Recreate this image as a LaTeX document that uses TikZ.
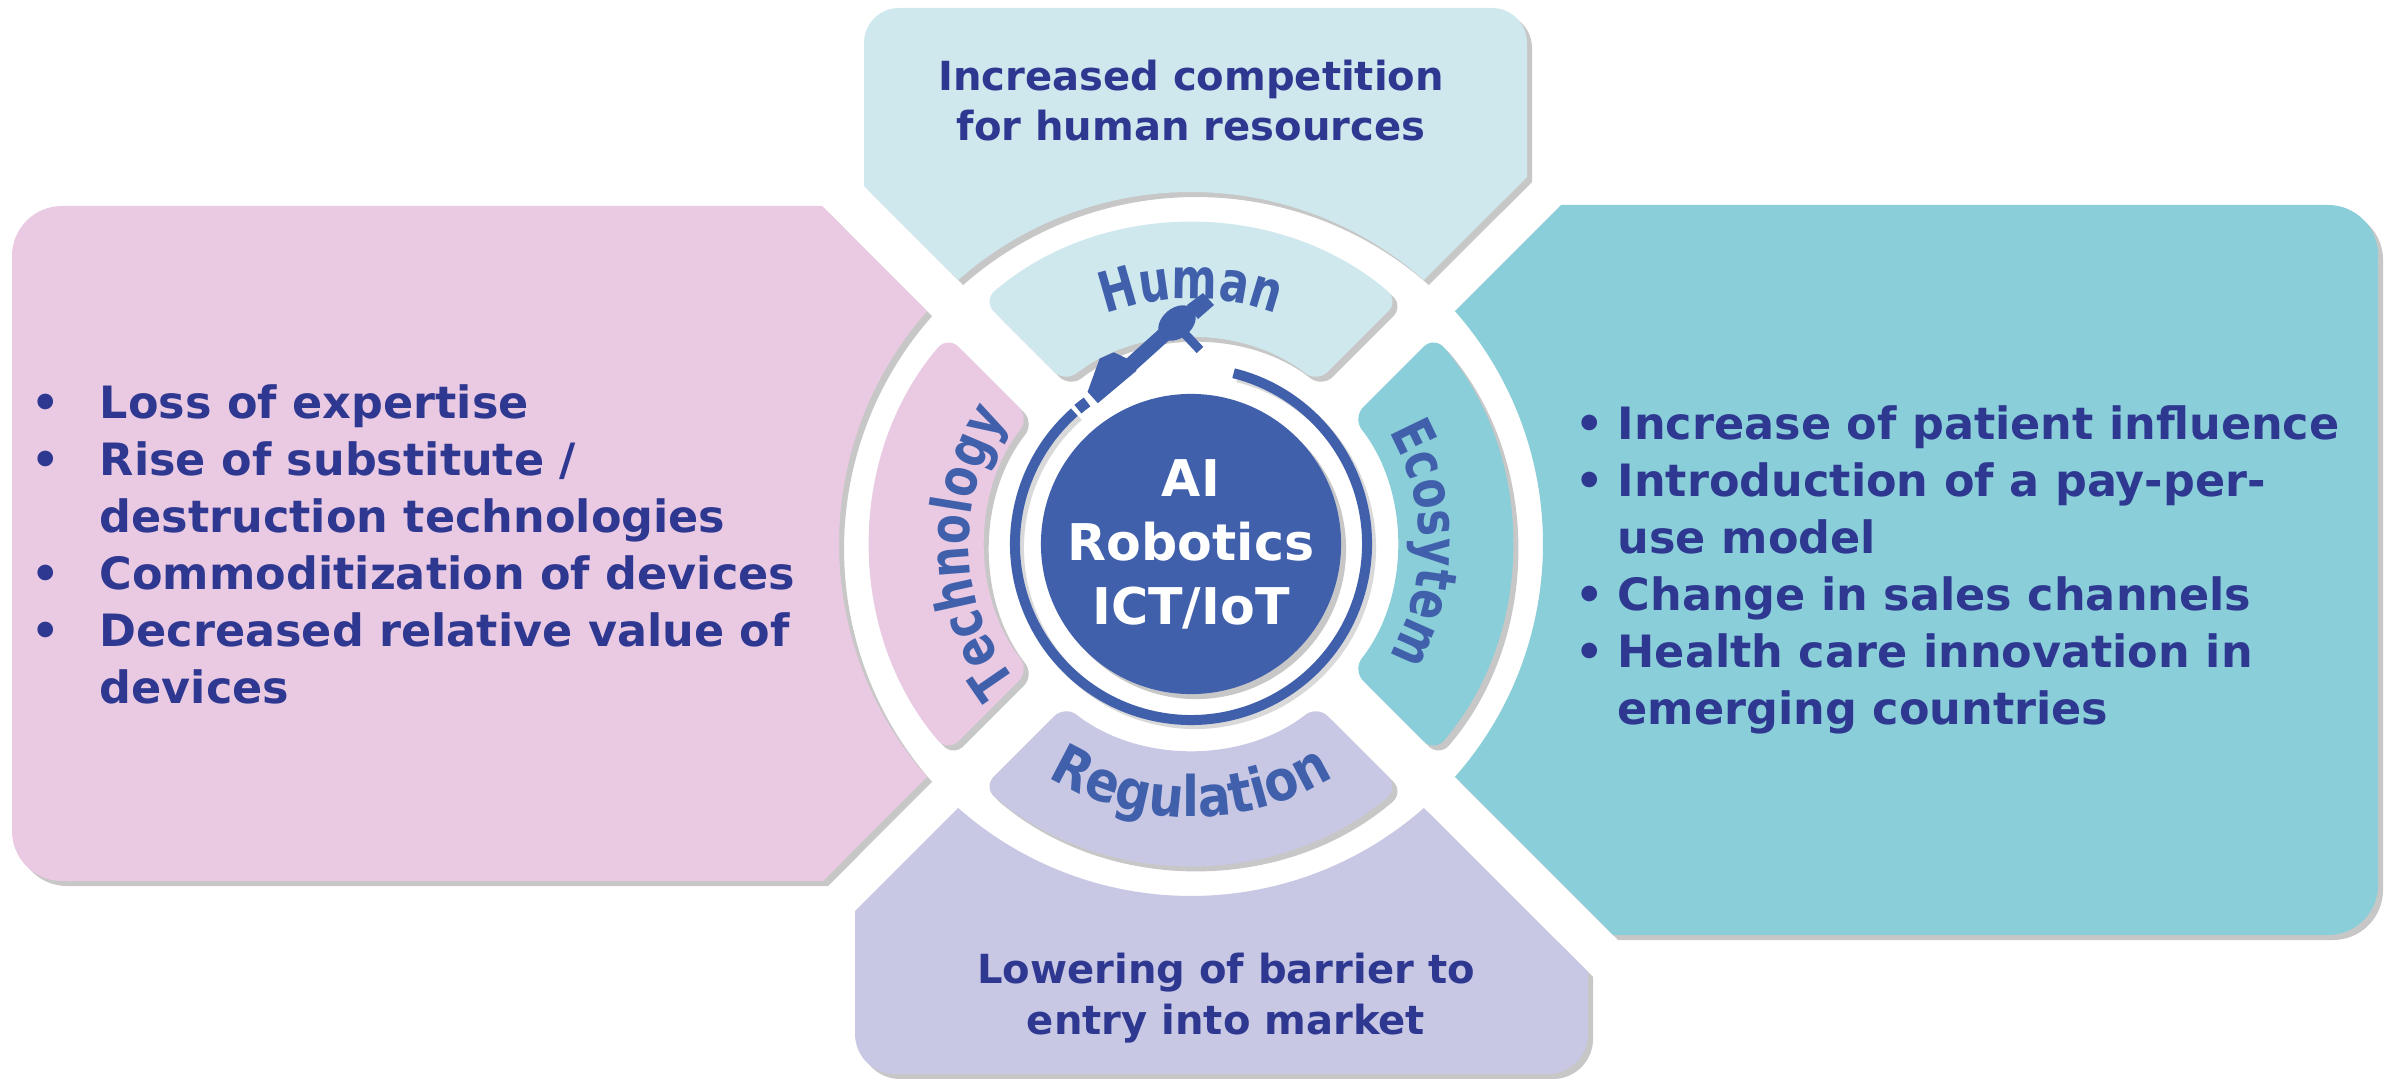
\documentclass[tikz,border=0pt]{standalone}
\usepackage{fontspec}
\setmainfont{DejaVu Sans}
\newfontfamily\labelfont{DejaVu Sans}[FakeStretch=0.88]
\newfontfamily\labelfontn{DejaVu Sans}[FakeStretch=0.78]
\usetikzlibrary{shadows,decorations.text}
\definecolor{pinkC}{HTML}{E9CAE2}
\definecolor{topC}{HTML}{CEE8EE}
\definecolor{tealC}{HTML}{89CED8}
\definecolor{lavC}{HTML}{C8C8E4}
\definecolor{txtC}{HTML}{2E3891}
\definecolor{hubC}{HTML}{4160AC}
\begin{document}
\begin{tikzpicture}[x=0.01cm,y=0.01cm,
  shad/.style={drop shadow={shadow xshift=0.05cm,shadow yshift=-0.05cm,opacity=0.22,fill=black}},
  bullettext/.style={font=\bfseries\fontsize{12.66}{16.2}\selectfont,text=txtC,inner sep=0pt,align=left},
  midtext/.style={font=\bfseries\fontsize{11.4}{14.3}\selectfont,text=txtC,inner sep=0pt,align=center},
  curvelabel/.style 2 args={decorate,decoration={text along path,text align=center,text color=hubC,
     text={|#1\bfseries\fontsize{15.9}{19}\selectfont|#2}}},
  band/.style={shad,rounded corners=0.15cm}
]
\useasboundingbox (0,0) rectangle (2394,1078);
\fill[white] (0,0) rectangle (2394,1078);
\coordinate (C) at (1191,534);

% ---- outer boxes ----
\path[fill=topC,shad] (864,892) -- (864,1035) arc[start angle=180,end angle=90,radius=35]
  -- (1492,1070) arc[start angle=90,end angle=0,radius=35] -- (1527,901)
  -- ([shift={(C)}]48.58:352) arc[start angle=48.58,end angle=131.42,radius=352] -- cycle;
\path[fill=pinkC,shad] (822,872) -- (62,872) arc[start angle=90,end angle=180,radius=50]
  -- (12,247) arc[start angle=180,end angle=270,radius=50] -- (823,197)
  -- ([shift={(C)}]221.42:352) arc[start angle=221.42,end angle=138.58,radius=352] -- cycle;
\path[fill=tealC,shad] (1561,873) -- (2328,873) arc[start angle=90,end angle=0,radius=50]
  -- (2378,193) arc[start angle=0,end angle=-90,radius=50] -- (1613,143)
  -- ([shift={(C)}]-41.42:352) arc[start angle=-41.42,end angle=41.42,radius=352] -- cycle;
\path[fill=lavC,shad] ([shift={(C)}]228.58:352) arc[start angle=228.58,end angle=311.42,radius=352]
  -- (1588,106) -- (1588,44) arc[start angle=0,end angle=-90,radius=40]
  -- (895,4) arc[start angle=270,end angle=180,radius=40] -- (855,167) -- cycle;

% ---- inner bands ----
\path[fill=topC,band] ([shift={(C)}]49.48:320) arc[start angle=49.48,end angle=130.52,radius=320]
  -- ([shift={(C)}]128:205) arc[start angle=128,end angle=52,radius=205] -- cycle;
\path[fill=pinkC,band] ([shift={(C)}]139.48:320) arc[start angle=139.48,end angle=220.52,radius=320]
  -- ([shift={(C)}]218:205) arc[start angle=218,end angle=142,radius=205] -- cycle;
\path[fill=lavC,band] ([shift={(C)}]229.48:320) arc[start angle=229.48,end angle=310.52,radius=320]
  -- ([shift={(C)}]308:205) arc[start angle=308,end angle=232,radius=205] -- cycle;
\path[fill=tealC,band] ([shift={(C)}]-40.52:320) arc[start angle=-40.52,end angle=40.52,radius=320]
  -- ([shift={(C)}]38:205) arc[start angle=38,end angle=-38,radius=205] -- cycle;

% ---- curved labels ----
\path[curvelabel={\labelfontn}{Human}] ([shift={(C)}]150:245) arc[start angle=150,end angle=30,radius=245];
\path[curvelabel={\labelfontn}{Technology}] ([shift={(C)}]237:222) arc[start angle=237,end angle=127,radius=222];
\path[curvelabel={\labelfontn}{Ecosytem}] ([shift={(C)}]55:228) arc[start angle=55,end angle=-55,radius=228];
\path[curvelabel={\labelfont}{Regulation}] ([shift={(C)}]215:273) arc[start angle=215,end angle=325,radius=273];

% ---- ring and hub ----
\draw[black,opacity=0.15,line width=0.1cm] ([shift={(1195,530)}]76:176) arc[start angle=76,end angle=-228.5,radius=176];
\draw[hubC,line width=0.1cm] ([shift={(C)}]76:176) arc[start angle=76,end angle=-228.5,radius=176];
\node[circle,fill=hubC,minimum size=3cm,inner sep=0pt,shad,text=white,align=center,
  font=\bfseries\fontsize{14.4}{18.2}\selectfont] (hub) at (C) {AI\\Robotics\\ICT/IoT};

% ---- robotic arm ----
\draw[hubC,line width=0.11cm] ([shift={(C)}]130:176) arc[start angle=130,end angle=126.2,radius=176];
\fill[hubC] (1097.8,674.8) -- (1087.6,686.2) -- (1099.6,719.4) -- (1113.8,725.7) -- (1127.9,719.0) -- (1136.5,707.3) -- cycle;
\draw[hubC,line width=0.15cm] (1126,709) -- (1177,755);
\fill[hubC,rotate around={40:(1177,755)}] (1177,755) ellipse[x radius=21,y radius=15];
\draw[hubC,line width=0.12cm] (1180,757) -- (1203,776);
\fill[hubC] (1187,773) -- (1203,785) -- (1214,773) -- (1198,759) -- cycle;
\draw[hubC,line width=0.09cm] (1183,746) -- (1200,728);

% ---- texts ----
\node[bullettext,anchor=base west] (lefttxt) at (31,375)
 {\makebox[0.68cm][l]{•}Loss of expertise\\
  \makebox[0.68cm][l]{•}Rise of substitute /\\
  \hspace*{0.68cm}destruction technologies\\
  \makebox[0.68cm][l]{•}Commoditization of devices\\
  \makebox[0.68cm][l]{•}Decreased relative value of\\
  \hspace*{0.68cm}devices};
\node[bullettext,anchor=base west] (righttxt) at (1575,354)
 {\makebox[0.42cm][l]{•}Increase of patient influence\\
  \makebox[0.42cm][l]{•}Introduction of a pay-per-\\
  \hspace*{0.42cm}use model\\
  \makebox[0.42cm][l]{•}Change in sales channels\\
  \makebox[0.42cm][l]{•}Health care innovation in\\
  \hspace*{0.42cm}emerging countries};
\node[midtext,anchor=base] (toptxt) at (1191,937) {Increased competition\\for human resources};
\node[midtext,anchor=base] (bottxt) at (1226,44) {Lowering of barrier to\\entry into market};
\end{tikzpicture}
\end{document}
